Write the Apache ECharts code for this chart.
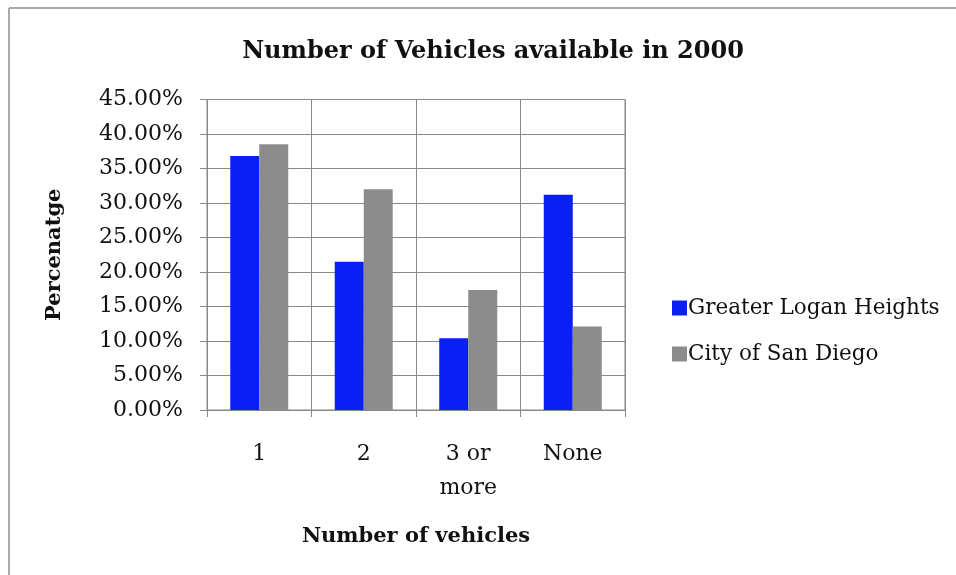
<!DOCTYPE html>
<html>
<head>
<meta charset="utf-8">
<script src="https://cdn.jsdelivr.net/npm/echarts@6/dist/echarts.min.js"></script>
<style>
html,body{margin:0;padding:0;background:#fff;}
#chart{width:956px;height:575px;}
</style>
</head>
<body>
<div id="chart"></div>
<script>
const categories = ['1', '2', '3 or\nmore', 'None'];
const greaterLoganHeights = [36.8, 21.5, 10.4, 31.2];
const cityOfSanDiego = [38.5, 32.0, 17.4, 12.1];
const seriesNames = ['Greater Logan Heights', 'City of San Diego'];

const serif = '"DejaVu Serif", "Liberation Serif", serif';
const chart = echarts.init(document.getElementById('chart'));
chart.setOption({
  backgroundColor: '#ffffff',
  animation: false,
  title: {
    text: 'Number of Vehicles available in 2000',
    left: 488, top: 35, textAlign: 'center',
    textStyle: { fontFamily: serif, fontWeight: 'bold', fontSize: 24, color: '#111' }
  },
  graphic: [
    { type: 'line', shape: { x1: 9, y1: 8, x2: 9, y2: 575 }, style: { stroke: '#aaa', lineWidth: 2 } },
    { type: 'line', shape: { x1: 9, y1: 8, x2: 956, y2: 8 }, style: { stroke: '#aaa', lineWidth: 2 } }
  ],
  legend: {
    orient: 'vertical', left: 667, top: 289,
    itemWidth: 15, itemHeight: 15, itemGap: 18,
    icon: 'rect',
    textStyle: { fontFamily: serif, fontSize: 21.5, color: '#111', lineHeight: 28, padding: [0,0,0,-4] },
    data: seriesNames
  },
  grid: { left: 207, right: 331, top: 99.5, bottom: 165, show: true, borderColor: '#888', borderWidth: 1 },
  xAxis: {
    type: 'category', data: categories,
    name: 'Number of vehicles', nameLocation: 'middle', nameGap: 116,
    nameTextStyle: { fontFamily: serif, fontWeight: 'bold', fontSize: 21, color: '#111' },
    axisLine: { lineStyle: { color: '#888' } },
    axisTick: { show: true, length: 7, lineStyle: { color: '#888' } },
    axisLabel: { fontFamily: serif, fontSize: 22, color: '#111', margin: 27, lineHeight: 34, verticalAlign: 'top' },
    splitLine: { show: true, lineStyle: { color: '#888', width: 1 } }
  },
  yAxis: {
    type: 'value', min: 0, max: 45, interval: 5,
    name: 'Percenatge', nameLocation: 'middle', nameGap: 142,
    nameTextStyle: { fontFamily: serif, fontWeight: 'bold', fontSize: 21, color: '#111' },
    axisLine: { show: true, lineStyle: { color: '#888' } },
    axisTick: { show: true, length: 7, lineStyle: { color: '#888' } },
    axisLabel: { fontFamily: serif, fontSize: 22, color: '#111', margin: 24, formatter: v => v.toFixed(2) + '%' },
    splitLine: { show: true, lineStyle: { color: '#888', width: 1 } }
  },
  series: [
    { name: seriesNames[0], type: 'bar', data: greaterLoganHeights, barWidth: 29, barGap: '0%', itemStyle: { color: '#0a1ff5' } },
    { name: seriesNames[1], type: 'bar', data: cityOfSanDiego, barWidth: 29, barGap: '0%', itemStyle: { color: '#8c8c8c' } }
  ]
});
</script>
</body>
</html>
